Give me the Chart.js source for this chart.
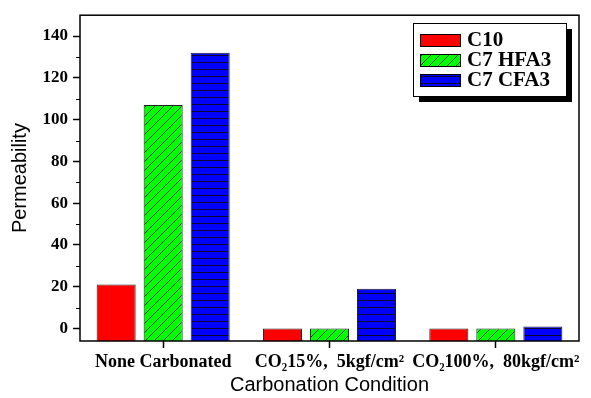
<!DOCTYPE html>
<html><head><meta charset="utf-8">
<script src="https://cdn.jsdelivr.net/npm/chart.js@4.4.1/dist/chart.umd.min.js"></script>
<style>html,body{margin:0;padding:0;background:#fff;}#wrap{width:591px;height:398px;}</style>
</head><body><div id="wrap"><canvas id="c" width="591" height="398"></canvas></div>
<script>
const categories = ['None Carbonated', 'CO\u208215%,  5kgf/cm\u00B2', 'CO\u2082100%,  80kgf/cm\u00B2'];
const seriesNames = ['C10', 'C7 HFA3', 'C7 CFA3'];
const c10 = [21, 0, 0];
const hfa3 = [107, 0, 0];
const cfa3 = [132, 19, 1];
const yTicks = [0, 20, 40, 60, 80, 100, 120, 140];
const yMinorTicks = [10, 30, 50, 70, 90, 110, 130];

function hatchGreen() {
  const p = document.createElement('canvas'); p.width = 9; p.height = 9;
  const g = p.getContext('2d');
  g.fillStyle = '#00ff00'; g.fillRect(0, 0, 9, 9);
  g.strokeStyle = '#1a3a1a'; g.lineWidth = 1;
  g.beginPath(); g.moveTo(-1, 10); g.lineTo(10, -1); g.stroke();
  return g.createPattern(p, 'repeat');
}
function hatchBlue() {
  const p = document.createElement('canvas'); p.width = 8; p.height = 7;
  const g = p.getContext('2d');
  g.fillStyle = '#0000ff'; g.fillRect(0, 0, 8, 7);
  g.fillStyle = '#0a0a30'; g.fillRect(0, 6, 8, 1);
  return g.createPattern(p, 'repeat');
}
const ctx = document.getElementById('c').getContext('2d');
const fills = ['#ff0000', hatchGreen(), hatchBlue()];
const serif = "'Liberation Serif', 'Times New Roman', serif";
const sans = "'Liberation Sans', Arial, sans-serif";

const boxPlugin = {
  id: 'box',
  afterDraw(chart) {
    const c = chart.ctx, a = chart.chartArea, y = chart.scales.y;
    c.save();
    c.strokeStyle = '#000'; c.lineWidth = 1.5;
    c.strokeRect(a.left, a.top, a.right - a.left, a.bottom - a.top);
    c.lineWidth = 1;
    yMinorTicks.forEach(v => {
      const py = Math.round(y.getPixelForValue(v)) + 0.5;
      c.beginPath(); c.moveTo(a.left - 4, py); c.lineTo(a.left, py); c.stroke();
    });
    // legend
    const lx = 413, ly = 23, lw = 153, lh = 73;
    c.fillStyle = '#000'; c.fillRect(lx + 6, ly + 6, lw, lh);
    c.fillStyle = '#fff'; c.fillRect(lx, ly, lw, lh);
    c.strokeStyle = '#000'; c.lineWidth = 1; c.strokeRect(lx + 0.5, ly + 0.5, lw, lh);
    c.font = 'bold 21px ' + serif; c.textBaseline = 'middle'; c.textAlign = 'left';
    seriesNames.forEach((n, i) => {
      const ry = 40 + i * 20;
      c.fillStyle = fills[i]; c.fillRect(420, ry - 6, 41, 13);
      c.strokeStyle = '#000'; c.strokeRect(420.5, ry - 6 + 0.5, 40, 12);
      c.fillStyle = '#000'; c.fillText(n, 467, ry + 1);
    });
    c.restore();
  }
};

new Chart(ctx, {
  type: 'bar',
  data: {
    labels: categories,
    datasets: seriesNames.map((n, i) => ({
      label: n,
      data: [c10, hfa3, cfa3][i],
      backgroundColor: fills[i],
      borderColor: '#222',
      borderWidth: 1,
      base: -6,
      categoryPercentage: 0.848,
      barPercentage: 0.83
    }))
  },
  options: {
    responsive: false,
    animation: false,
    layout: { padding: { left: 0, top: 15, right: 12, bottom: 0 } },
    plugins: { legend: { display: false }, tooltip: { enabled: false } },
    scales: {
      x: {
        grid: { drawOnChartArea: false, offset: false, tickLength: 7, color: '#000', tickWidth: 1.5 },
        border: { display: false },
        ticks: { color: '#000', font: { family: serif, weight: 'bold', size: 18 }, padding: 4, maxRotation: 0, autoSkip: false },
        title: { display: true, text: 'Carbonation Condition', color: '#000', font: { family: sans, size: 20 }, padding: { top: 0, bottom: 1 } },
        afterFit(s) { s.height = 57; }
      },
      y: {
        min: -6, max: 150,
        afterBuildTicks(s) { s.ticks = yTicks.map(v => ({ value: v })); },
        grid: { drawOnChartArea: false, tickLength: 7, color: '#000', tickWidth: 1.5 },
        border: { display: false },
        ticks: { color: '#000', font: { family: serif, weight: 'bold', size: 17 }, padding: 5 },
        title: { display: true, text: 'Permeability', color: '#000', font: { family: sans, size: 20 }, padding: { top: 8, bottom: 0 } },
        afterFit(s) { s.width = 80; }
      }
    }
  },
  plugins: [boxPlugin]
});
</script></body></html>
